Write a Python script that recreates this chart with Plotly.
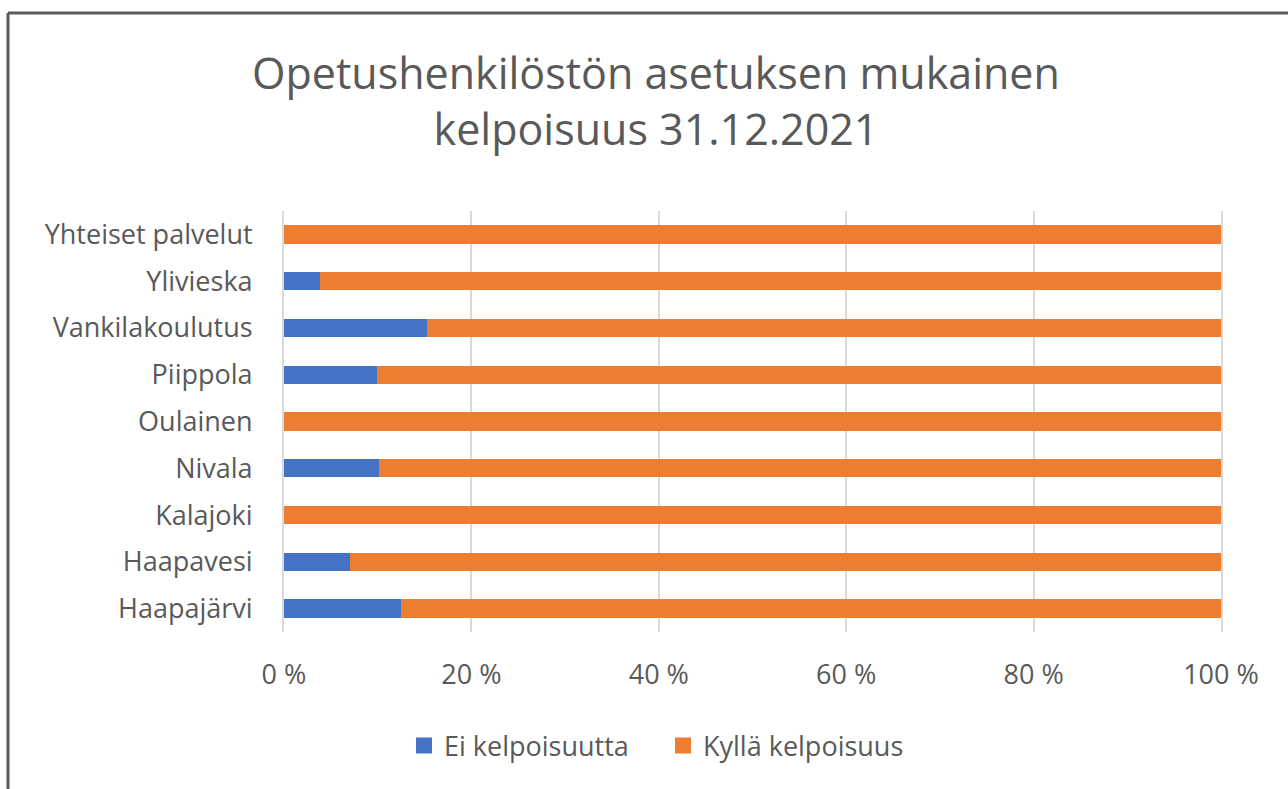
import plotly.graph_objects as go

categories = ["Haapajärvi", "Haapavesi", "Kalajoki", "Nivala", "Oulainen",
              "Piippola", "Vankilakoulutus", "Ylivieska", "Yhteiset palvelut"]
ei_kelpoisuutta = [12.5, 7.0, 0.0, 10.1, 0.0, 9.9, 15.3, 3.8, 0.0]
kylla_kelpoisuus = [87.5, 93.0, 100.0, 89.9, 100.0, 90.1, 84.7, 96.2, 100.0]
series_names = ["Ei kelpoisuutta", "Kyllä kelpoisuus"]
series_colors = ["#4472C4", "#ED7D31"]
tick_values = [0, 20, 40, 60, 80, 100]
tick_labels = ["0 %", "20 %", "40 %", "60 %", "80 %", "100 %"]

FONT = "Open Sans, Lato, sans-serif"
GRAY = "#595959"

fig = go.Figure()
for vals, name, col in zip([ei_kelpoisuutta, kylla_kelpoisuus], series_names, series_colors):
    fig.add_trace(go.Bar(y=categories, x=vals, name=name, orientation="h",
                         marker=dict(color=col, line=dict(width=0)),
                         showlegend=False, legendgroup=name))
# legend entries with square symbols
for name, col in zip(series_names, series_colors):
    fig.add_trace(go.Scatter(x=[None], y=[None], mode="markers", name=name,
                             legendgroup=name,
                             marker=dict(symbol="square", size=16, color=col)))

W, H = 1288, 789
L, R, T, B = 284, 1221, 211, 632
pw, ph = R - L, B - T

fig.update_layout(
    width=W, height=H,
    barmode="stack", bargap=0.61,
    margin=dict(l=L, r=W - R, t=T, b=H - B),
    paper_bgcolor="white", plot_bgcolor="white",
    font=dict(family=FONT, color=GRAY),
    title=dict(text="Opetushenkilöstön asetuksen mukainen<br>kelpoisuus 31.12.2021",
               xref="container", x=656 / W, xanchor="center",
               yref="container", y=1 - 89 / H, yanchor="middle",
               font=dict(family=FONT, size=43, color=GRAY)),
    xaxis=dict(range=[0, 100], tickmode="array", tickvals=tick_values, ticktext=tick_labels,
               showgrid=True, gridcolor="#D9D9D9", gridwidth=2, zeroline=False,
               tickfont=dict(size=27, color=GRAY), ticklabelstandoff=24,
               showline=False, fixedrange=True),
    yaxis=dict(showgrid=False, zeroline=False, showline=True, mirror=True,
               linecolor="#D9D9D9", linewidth=2,
               tickfont=dict(size=27, color=GRAY), ticklabelstandoff=24,
               range=[-0.5, 8.5]),
    legend=dict(orientation="h", xref="container", x=404 / W, xanchor="left",
                yref="container", y=1 - 746 / H, yanchor="middle",
                font=dict(size=27, color=GRAY), traceorder="normal",
                itemwidth=30, entrywidth=214, entrywidthmode="pixels"),
    showlegend=True,
)

# Outer chart border (left and top edges visible)
fig.add_shape(type="line", xref="paper", yref="paper",
              x0=(8 - L) / pw, x1=(8 - L) / pw, y0=(B - 13) / ph, y1=(B - 800) / ph,
              line=dict(color="#5a5a5a", width=3), layer="above")
fig.add_shape(type="line", xref="paper", yref="paper",
              x0=(8 - L) / pw, x1=(1300 - L) / pw, y0=(B - 13) / ph, y1=(B - 13) / ph,
              line=dict(color="#5a5a5a", width=3), layer="above")

fig.write_html("out.html", config={"displayModeBar": False},
               post_script="document.body.style.margin='0';document.body.style.overflow='hidden';")
